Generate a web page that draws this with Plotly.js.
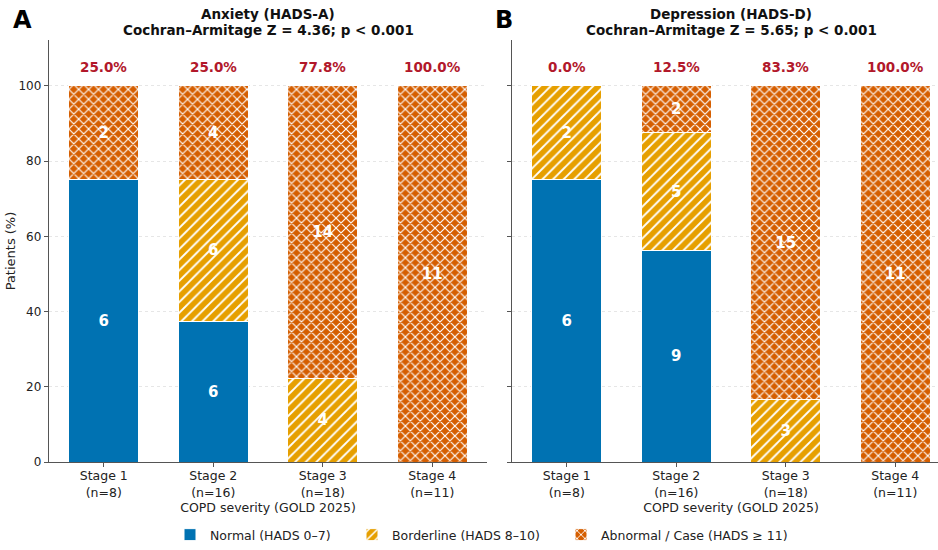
<!DOCTYPE html>
<html>
<head>
<meta charset="utf-8">
<script src="https://cdn.plot.ly/plotly-3.0.1.min.js"></script>
<style>
html,body{margin:0;padding:0;overflow:hidden;background:#fff;width:938px;height:550px;}
#chart{width:956px;height:550px;}
</style>
</head>
<body>
<div id="chart"></div>
<script>
// ---- Data ----
const stages = ['Stage 1', 'Stage 2', 'Stage 3', 'Stage 4'];
const nPerStage = [8, 16, 18, 11];

// Anxiety (HADS-A) counts
const anxNormal = [6, 6, 0, 0];
const anxBorderline = [0, 6, 4, 0];
const anxAbnormal = [2, 4, 14, 11];

// Depression (HADS-D) counts
const depNormal = [6, 9, 0, 0];
const depBorderline = [2, 5, 3, 0];
const depAbnormal = [0, 2, 15, 11];

const panelTitles = ['Anxiety (HADS-A)', 'Depression (HADS-D)'];
const trendStats = ['Cochran–Armitage Z = 4.36; p < 0.001', 'Cochran–Armitage Z = 5.65; p < 0.001'];
const panelLetters = ['A', 'B'];
const categoryNames = ['Normal (HADS 0–7)', 'Borderline (HADS 8–10)', 'Abnormal / Case (HADS ≥ 11)'];

// ---- Styling ----
const colors = ['#0072B2', '#E69F00', '#D55E00'];
const shapes = ['', '/', 'x'];
const FONT = 'DejaVu Sans, Verdana, sans-serif';
const W = 956, H = 550;
const px = v => v / W;
const py = v => 1 - v / H;
const domA = [px(49), px(487)];
const domB = [px(512), px(950)];
const domY = [py(463), py(40)];
const legendNames = ['legend', 'legend2', 'legend3'];
const legendTextX = [210, 392, 601];

const xpos = stages.map((s, i) => i);
const tickText = stages.map((s, i) => s + '<br>(n=' + nPerStage[i] + ')');
const pct = (arr) => arr.map((v, i) => v / nPerStage[i] * 100);

function makeTraces(series, xa, ya, showLegend) {
  return series.map((counts, k) => ({
    type: 'bar',
    x: xpos,
    y: pct(counts),
    xaxis: xa, yaxis: ya,
    width: 0.64,
    name: categoryNames[k],
    legend: legendNames[k],
    legendgroup: 'g' + k,
    showlegend: showLegend,
    text: counts.map(c => c > 0 ? String(c) : ''),
    textposition: 'inside',
    insidetextanchor: 'middle',
    textangle: 0,
    textfont: {family: FONT, size: 15, color: '#ffffff', weight: 'bold'},
    constraintext: 'none',
    hoverinfo: 'skip',
    marker: {
      color: colors[k],
      line: {color: '#ffffff', width: 1},
      pattern: k === 0 ? {shape: ''} : {
        shape: shapes[k], fgcolor: '#ffffff', bgcolor: colors[k],
        fillmode: 'replace', size: k === 1 ? 7.5 : 7, solidity: k === 1 ? 0.25 : 0.3
      }
    }
  }));
}

const traces = [
  ...makeTraces([anxNormal, anxBorderline, anxAbnormal], 'x', 'y', true),
  ...makeTraces([depNormal, depBorderline, depAbnormal], 'x2', 'y2', false)
];

const annotations = [];
[[anxAbnormal, 'x', 'y'], [depAbnormal, 'x2', 'y2']].forEach(([ab, xa, ya]) => {
  pct(ab).forEach((p, i) => {
    annotations.push({
      x: xpos[i], y: 105, xref: xa, yref: ya, text: p.toFixed(1) + '%',
      showarrow: false, font: {family: FONT, size: 13.5, color: '#B2182B', weight: 'bold'}
    });
  });
});
const doms = [domA, domB];
[0, 1].forEach(j => {
  const cx = (doms[j][0] + doms[j][1]) / 2;
  annotations.push({
    x: cx, y: py(14), xref: 'paper', yref: 'paper', xanchor: 'center', yanchor: 'middle',
    text: panelTitles[j], showarrow: false,
    font: {family: FONT, size: 13.5, color: '#111', weight: 'bold'}
  });
  annotations.push({
    x: cx, y: py(30), xref: 'paper', yref: 'paper', xanchor: 'center', yanchor: 'middle',
    text: trendStats[j], showarrow: false,
    font: {family: FONT, size: 13.5, color: '#111', weight: 'bold'}
  });
});
annotations.push({x: px(22), y: py(20), xref: 'paper', yref: 'paper', xanchor: 'center', yanchor: 'middle',
  text: panelLetters[0], showarrow: false, font: {family: FONT, size: 24, color: '#000', weight: 'bold'}});
annotations.push({x: px(504), y: py(20), xref: 'paper', yref: 'paper', xanchor: 'center', yanchor: 'middle',
  text: panelLetters[1], showarrow: false, font: {family: FONT, size: 24, color: '#000', weight: 'bold'}});

const xaxisBase = {
  range: [-0.5, 3.5], tickvals: xpos, ticktext: tickText, automargin: false,
  showline: true, linecolor: '#555', linewidth: 1.2, ticks: 'outside', ticklen: 4, tickcolor: '#555',
  showgrid: false, zeroline: false, fixedrange: true, ticklabelstandoff: -2,
  tickfont: {family: FONT, size: 12.5, color: '#222'},
  title: {text: 'COPD severity (GOLD 2025)', font: {family: FONT, size: 12.5, color: '#222'}, standoff: 0}
};
const yaxisBase = {
  range: [0, 112.2], tickvals: [0, 20, 40, 60, 80, 100], automargin: false,
  showline: true, linecolor: '#555', linewidth: 1.2, ticks: 'outside', ticklen: 4, tickcolor: '#555',
  showgrid: true, gridcolor: '#e6e6e6', griddash: 'dot', gridwidth: 1, zeroline: false,
  tickfont: {family: FONT, size: 12, color: '#222'}
};

const layout = {
  width: W, height: H,
  margin: {l: 0, r: 0, t: 0, b: 0, pad: 0},
  paper_bgcolor: '#fff', plot_bgcolor: '#fff',
  barmode: 'stack', bargap: 0.36,
  showlegend: true,
  xaxis: Object.assign({}, xaxisBase, {domain: domA, anchor: 'y'}),
  xaxis2: Object.assign({}, xaxisBase, {domain: domB, anchor: 'y2'}),
  yaxis: Object.assign({}, yaxisBase, {domain: domY, anchor: 'x',
    title: {text: 'Patients (%)', font: {family: FONT, size: 13, color: '#222'}, standoff: 0}}),
  yaxis2: Object.assign({}, yaxisBase, {domain: domY, anchor: 'x2', showticklabels: false, matches: 'y'}),
  annotations: annotations,
  font: {family: FONT}
};
legendNames.forEach((ln, k) => {
  layout[ln] = {
    orientation: 'h',
    x: (legendTextX[k] - 40) / W, xanchor: 'left', y: py(536), yanchor: 'middle',
    font: {family: FONT, size: 12.5, color: '#222'}, bgcolor: 'rgba(0,0,0,0)', borderwidth: 0
  };
});

Plotly.newPlot('chart', traces, layout, {displayModeBar: false, staticPlot: true});
</script>
</body>
</html>
